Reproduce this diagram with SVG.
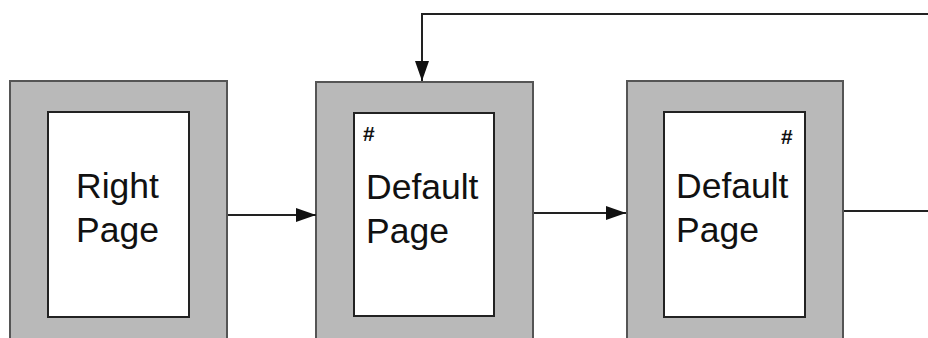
<svg xmlns="http://www.w3.org/2000/svg" width="928" height="338" viewBox="0 0 928 338">
<style>
.outer{fill:#b9b9b9;stroke:#555;stroke-width:2}
.inner{fill:#fff;stroke:#222;stroke-width:2}
.lbl{font-family:"Liberation Sans",Arial,sans-serif;font-size:35.5px;fill:#111}
.hash{font-family:"Liberation Sans",Arial,sans-serif;font-size:21px;font-weight:bold;fill:#111}
.conn{fill:none;stroke:#222;stroke-width:2}
</style>
<defs>
<marker id="ahd" markerWidth="20" markerHeight="14" refX="20" refY="7" orient="auto" markerUnits="userSpaceOnUse" viewBox="0 0 20 14">
<path d="M0,0 L20,7 L0,14 Z" fill="#111"/>
</marker>
</defs>
<rect width="928" height="338" fill="#fff"/>
<g id="node1">
<rect class="outer" x="10" y="81" width="217" height="270"/>
<rect class="inner" x="48" y="112" width="141" height="205"/>
<text class="lbl" x="76" y="198">Right</text>
<text class="lbl" x="76" y="242">Page</text>
</g>
<g id="node2">
<rect class="outer" x="316" y="82" width="217" height="270"/>
<rect class="inner" x="354" y="113" width="140" height="203"/>
<text class="hash" x="363" y="141">#</text>
<text class="lbl" x="366" y="199">Default</text>
<text class="lbl" x="366" y="243">Page</text>
</g>
<g id="node3">
<rect class="outer" x="627" y="81" width="216" height="270"/>
<rect class="inner" x="664" y="112" width="141" height="205"/>
<text class="hash" x="781" y="144">#</text>
<text class="lbl" x="676" y="198">Default</text>
<text class="lbl" x="676" y="242">Page</text>
</g>
<g id="connectors">
<path class="conn" d="M228,215 L316,215" marker-end="url(#ahd)"/>
<path class="conn" d="M534,213 L626,213" marker-end="url(#ahd)"/>
<path class="conn" d="M844,211 L928,211"/>
<path class="conn" d="M928,14 L422,14 L422,81" marker-end="url(#ahd)"/>
</g>
</svg>
